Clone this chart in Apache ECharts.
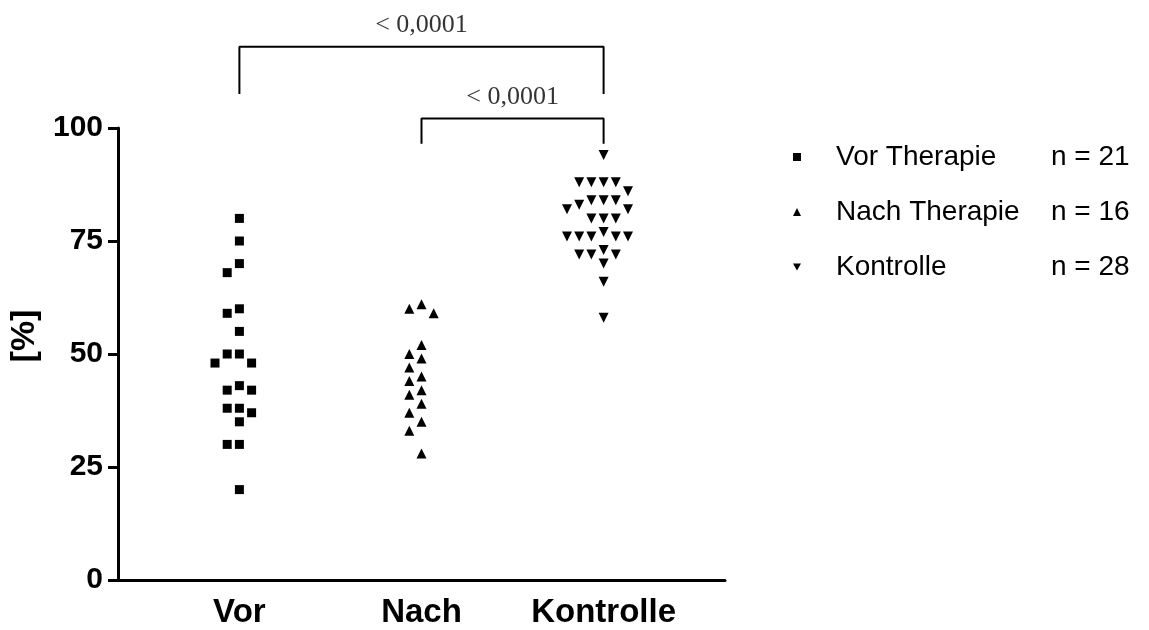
<!DOCTYPE html>
<html><head><meta charset="utf-8">
<script src="https://cdn.jsdelivr.net/npm/echarts@6/dist/echarts.min.js"></script>
<style>html,body{margin:0;padding:0;background:#fff}#c{width:1149px;height:630px}</style>
</head><body><div id="c"></div>
<script>
// ---- data ----
const groups = ['Vor', 'Nach', 'Kontrolle'];
const seriesNames = ['Vor Therapie', 'Nach Therapie', 'Kontrolle'];
const vorValues = [80, 75, 70, 68, 60, 59, 55, 50, 50, 48, 48, 43, 42, 42, 38, 38, 37, 35, 30, 30, 20];
const nachValues = [61, 60, 59, 52, 50, 49, 47, 45, 44, 42, 41, 39, 37, 35, 33, 28];
const kontrolleValues = [94, 88, 88, 88, 88, 86, 84, 84, 84, 83, 82, 82, 80, 80, 80, 77, 76, 76, 76, 76, 76, 73, 72, 72, 72, 70, 66, 58];
const yTicks = [0, 25, 50, 75, 100];
const pLabels = ['< 0,0001', '< 0,0001'];
const comparisons = [[0, 2], [1, 2]];

// ---- layout helpers ----
const FONT = "'Liberation Sans', Arial, sans-serif";
const allValues = [vorValues, nachValues, kontrolleValues];
const symbols = ['rect', 'triangle', 'path://M0,0L10,0L5,9Z'];

// simple beeswarm: spread points that would overlap into side columns
function swarm(values, center, step, minGap) {
  const order = values.map((v, i) => i).sort((a, b) => values[b] - values[a]);
  const placed = [];
  const out = new Array(values.length);
  order.forEach(i => {
    const v = values[i];
    for (let k = 0; k < 30; k++) {
      const col = k === 0 ? 0 : (k % 2 ? -Math.ceil(k / 2) : k / 2);
      if (!placed.some(p => p.col === col && Math.abs(p.v - v) < minGap)) {
        placed.push({ col, v });
        out[i] = [center + col * step, v];
        break;
      }
    }
  });
  return out;
}

const STEP = 0.067, GAP = 2.3;
const scatterSeries = allValues.map((vals, gi) => ({
  name: seriesNames[gi],
  type: 'scatter',
  symbol: symbols[gi],
  symbolSize: gi === 0 ? 9 : 10,
  itemStyle: { color: '#000', opacity: 1 },
  data: swarm(vals, gi + 1, STEP, GAP),
  z: 5
}));

// significance brackets (big above, small lower)
const bracketTop = [118, 102.1];
const bracketLegLow = [[107.5, 107.5], [96.5, 96.5]];
const labelY = [122.8, 106.9];
const bracketSeries = comparisons.map((c, i) => ({
  type: 'line',
  silent: true,
  clip: false,
  symbol: 'none',
  lineStyle: { color: '#000', width: 2 },
  data: [[c[0] + 1, bracketLegLow[i][0]], [c[0] + 1, bracketTop[i]], [c[1] + 1, bracketTop[i]], [c[1] + 1, bracketLegLow[i][1]]],
  z: 3
}));
const pLabelSeries = {
  type: 'scatter',
  silent: true,
  clip: false,
  symbolSize: 1,
  itemStyle: { color: 'rgba(0,0,0,0)' },
  data: comparisons.map((c, i) => ({ value: [(c[0] + c[1]) / 2 + 1, labelY[i]], label: { formatter: pLabels[i] } })),
  label: { show: true, position: 'inside', color: '#000', fontFamily: "'Liberation Serif', 'Times New Roman', serif", fontSize: 26 }
};

const chart = echarts.init(document.getElementById('c'), null, { renderer: 'canvas' });
chart.setOption({
  animation: false,
  backgroundColor: '#fff',
  grid: { left: 118, right: 424, top: 128, bottom: 50, containLabel: false, outerBoundsMode: 'none' },
  xAxis: {
    type: 'value',
    min: 1 / 3, max: 11 / 3,
    splitLine: { show: false },
    axisLine: { show: true, onZero: false, lineStyle: { color: '#000', width: 3 } },
    axisTick: { show: false },
    axisLabel: {
      customValues: [1, 2, 3],
      formatter: v => groups[Math.round(v) - 1] || '',
      color: '#000', fontFamily: FONT, fontWeight: 'bold', fontSize: 33, margin: 16
    }
  },
  yAxis: {
    type: 'value',
    min: 0, max: 100, interval: 25,
    name: '[%]', nameLocation: 'middle', nameRotate: 90, nameGap: 72,
    nameTextStyle: { color: '#000', fontFamily: FONT, fontWeight: 'bold', fontSize: 34, padding: [0, 0, 0, 36] },
    splitLine: { show: false },
    axisLine: { show: true, lineStyle: { color: '#000', width: 3 } },
    axisTick: { show: true, length: 10, lineStyle: { color: '#000', width: 3 } },
    axisLabel: {
      customValues: yTicks,
      color: '#000', fontFamily: FONT, fontWeight: 'bold', fontSize: 30, letterSpacing: -1.5, margin: 15
    }
  },
  legend: {
    orient: 'vertical',
    left: 788, top: 138,
    itemGap: 27,
    itemWidth: 8, itemHeight: 8,
    data: seriesNames,
    formatter: name => `{a|${name}}{b|n = ${allValues[seriesNames.indexOf(name)].length}}`,
    textStyle: {
      color: '#000', fontFamily: FONT, fontSize: 28,
      rich: {
        a: { width: 215, padding: [0, 0, 0, 30], fontFamily: FONT, fontSize: 28, color: '#000' },
        b: { fontFamily: FONT, fontSize: 28, color: '#000' }
      }
    }
  },
  series: [...scatterSeries, ...bracketSeries, pLabelSeries]
});
</script>
</body></html>
